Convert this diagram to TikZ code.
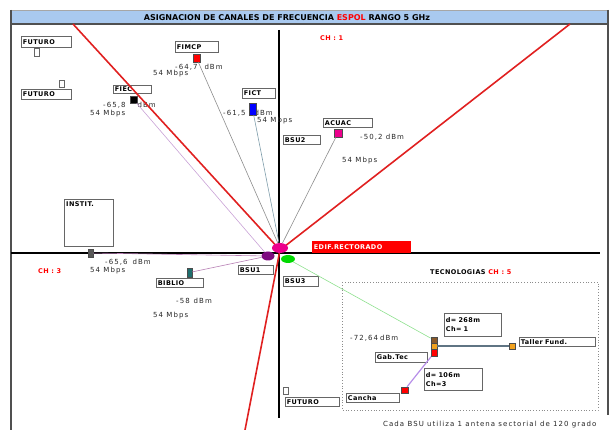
\documentclass[tikz,border=0pt]{standalone}
\usepackage{fontspec}
\setmainfont{DejaVu Sans}
\newfontfamily\lblfont[LetterSpace=6]{DejaVu Sans}
\newfontfamily\valfont[LetterSpace=15]{DejaVu Sans}
\usetikzlibrary{shapes.geometric}

\definecolor{barblue}{HTML}{A9C9EF}
\definecolor{framegray}{HTML}{505050}
\definecolor{sectred}{HTML}{E02020}
\definecolor{linkgray}{HTML}{8C8C8C}
\definecolor{linkblue}{HTML}{7E9CAA}
\definecolor{lilac}{HTML}{C9A2D6}
\definecolor{plum}{HTML}{B77FB4}
\definecolor{lgreen}{HTML}{8EE08E}
\definecolor{slate}{HTML}{5F7483}
\definecolor{violet2}{HTML}{B68DE8}
\definecolor{siteteal}{HTML}{1F6E6E}
\definecolor{sitebrown}{HTML}{8A5A2B}
\definecolor{siteorange}{HTML}{F2A21E}
\definecolor{bsupurple}{HTML}{7E0A80}

\begin{document}
\begin{tikzpicture}[x=1pt, y=-1pt,
    lbl/.style={draw=black!60, line width=0.8pt, fill=white, anchor=north west, align=left,
        inner xsep=1.5pt, inner ysep=0pt, font=\lblfont\bfseries\fontsize{6.5}{9}\selectfont},
    val/.style={anchor=west, inner sep=0pt, text=black!85, font=\valfont\fontsize{7}{8}\selectfont},
    chan/.style={anchor=west, inner sep=0pt, text=red, font=\lblfont\bfseries\fontsize{6.5}{7}\selectfont},
    site/.style={draw=black!70, line width=0.5pt, inner sep=0pt, minimum width=7pt, minimum height=7pt},
    spare/.style={draw=black!60, fill=white, line width=0.5pt, inner sep=0pt, minimum width=5pt, minimum height=8pt},
    bsu/.style={ellipse, inner sep=0pt},
    sector/.style={draw=sectred, line width=1.6pt},
    axis/.style={draw=black, line width=1.8pt},
    link/.style={line width=0.6pt}
]
\useasboundingbox (0,0) rectangle (613,430);

\fill[barblue] (11,10) rectangle (608,24);
\draw[framegray, line width=1.2pt] (11,24) -- (608,24);
\draw[black!35, line width=0.6pt] (11,10) -- (608,10);
\draw[framegray, line width=2pt] (11,10) -- (11,430);
\draw[framegray, line width=2pt] (608,10) -- (608,415);
\node[font=\bfseries\fontsize{8}{9}\selectfont, inner sep=0pt] (title) at (287,17.5)
    {ASIGNACION DE CANALES DE FRECUENCIA \textcolor{red}{ESPOL} RANGO 5 GHz};

\coordinate (o) at (280,250);
\coordinate (nw) at (73,24);
\coordinate (ne) at (570,24);
\coordinate (so) at (245,430);
\coordinate (ytop) at (279,30);
\coordinate (ybot) at (279,418);
\coordinate (xleft) at (11,253);
\coordinate (xright) at (600,253);

\draw[axis] (ytop) -- (ybot);
\draw[axis, line width=1.5pt] (xleft) -- (xright);

\draw[black!45, dotted, line width=0.8pt] (342,282) rectangle (598,410);

\node[val] (v_fimcp) at (175,67) {-64,7\hspace{7pt}dBm};
\node[val] (r_fimcp) at (153,74) {54 Mbps};
\node[val] (v_fiec) at (103,105) {-65,8\hspace{12pt}dBm};
\node[val] (r_fiec) at (90,114) {54 Mbps};
\node[val] (v_fict) at (223,113) {-61,5\hspace{9pt}dBm};
\node[val] (r_fict) at (257,121) {54 Mbps};
\node[val] (v_acuac) at (360,137) {-50,2 dBm};
\node[val] (r_acuac) at (342,161) {54 Mbps};
\node[val] (v_instit) at (105,262) {-65,6\hspace{5pt}dBm};
\node[val] (r_instit) at (90,271) {54 Mbps};
\node[val] (v_biblio) at (176,301) {-58\hspace{4pt}dBm};
\node[val] (r_biblio) at (153,316) {54 Mbps};
\node[val] (v_tec) at (350,338) {-72,64\hspace{2pt}dBm};

\node[chan] (ch1) at (320,38) {CH : 1};
\node[chan] (ch3) at (38,271) {CH : 3};
\node[chan, text=black] (tecno) at (430,272) {TECNOLOGIAS \textcolor{red}{CH : 5}};

\node[lbl, text width=47pt, minimum height=11pt] (fut1) at (21,36) {FUTURO};
\node[lbl, text width=47pt, minimum height=10pt] (fut2) at (21,89) {FUTURO};
\node[lbl, text width=35pt, minimum height=8pt] (fiec) at (113,85) {FIEC};
\node[lbl, text width=40pt, minimum height=11pt] (fimcp) at (175,41) {FIMCP};
\node[lbl, text width=30pt, minimum height=10pt] (fict) at (242,88) {FICT};
\node[lbl, text width=34pt, minimum height=9pt] (bsu2) at (283,135) {BSU2};
\node[lbl, text width=46pt, minimum height=9pt] (acuac) at (323,118) {ACUAC};
\node[lbl, minimum width=49pt, minimum height=47pt] (instit) at (64,199) {};
\node[anchor=north west, inner sep=2pt, font=\lblfont\bfseries\fontsize{6.5}{7}\selectfont] (institlbl) at (instit.north west) {INSTIT.};
\node[lbl, text width=44pt, minimum height=9pt] (biblio) at (156,278) {BIBLIO};
\node[lbl, text width=32pt, minimum height=9pt] (bsu1) at (238,265) {BSU1};
\node[lbl, text width=32pt, minimum height=10pt] (bsu3) at (283,276) {BSU3};
\node[lbl, fill=red, draw=red, text=white, text width=95pt, minimum height=11pt] (edif) at (312,241) {EDIF.RECTORADO};
\node[lbl, text width=73pt, minimum height=9pt] (taller) at (519,337) {Taller Fund.};
\node[lbl, text width=54pt, minimum height=23pt] (d268) at (444,313) {d= 268m\\Ch= 1};
\node[lbl, text width=49pt, minimum height=10pt] (gabtec) at (375,352) {Gab.Tec};
\node[lbl, text width=55pt, minimum height=22pt] (d106) at (424,368) {d= 106m\\Ch=3};
\node[lbl, text width=50pt, minimum height=9pt] (cancha) at (346,393) {Cancha};
\node[lbl, text width=51pt, minimum height=9pt] (fut3) at (285,397) {FUTURO};

\node[spare] (p_fut1) at (37,52) {};
\node[spare, minimum height=7pt] (p_fut2) at (61.5,83.5) {};
\node[spare, minimum height=7pt] (p_fut3) at (285.5,390.5) {};

\node[site, fill=red, minimum height=8pt] (s_fimcp) at (196.5,58) {};
\node[site, fill=black] (s_fiec) at (133.5,99.5) {};
\node[site, fill=blue, minimum height=12pt] (s_fict) at (252.5,109) {};
\node[site, fill=magenta, minimum width=8pt, minimum height=8pt] (s_acuac) at (338,133) {};
\node[site, fill=black!65, minimum width=5pt, minimum height=8pt] (s_instit) at (90.5,253) {};
\node[site, fill=siteteal, minimum width=5pt, minimum height=9pt] (s_biblio) at (189.5,272.5) {};
\node[site, fill=sitebrown, minimum width=6pt, minimum height=6pt] (s_gab1) at (434,340) {};
\node[site, fill=siteorange, minimum width=6pt, minimum height=6pt] (s_gab2) at (434,346) {};
\node[site, fill=red, minimum width=6pt, minimum height=7pt] (s_gab3) at (434,353) {};
\node[site, fill=siteorange, minimum width=6pt, minimum height=6pt] (s_taller) at (512,346) {};
\node[site, fill=red, minimum width=7pt, minimum height=6pt] (s_cancha) at (404.5,390) {};

\draw[sector] (o) -- (nw);
\draw[sector] (o) -- (ne);
\draw[sector] (o) -- (so);

\node[bsu, fill=bsupurple, minimum width=13pt, minimum height=9pt] (ant1) at (268,256) {};
\node[bsu, fill=green!85!black, minimum width=14pt, minimum height=8pt] (ant3) at (288,259) {};
\node[bsu, fill=magenta, minimum width=16pt, minimum height=10pt] (ant2) at (280,248) {};

\draw[link, linkgray] (s_fimcp) -- (ant2);
\draw[link, linkblue] (s_fict) -- (ant2);
\draw[link, linkgray] (s_acuac) -- (ant2);
\draw[link, lilac] (s_fiec) -- (ant1);
\draw[link, plum] (s_instit) -- (ant1);
\draw[link, plum] (s_biblio) -- (ant1);
\draw[link, lgreen] (ant3) -- (s_gab1);
\draw[slate, line width=1.6pt] (s_gab2) -- (s_taller);
\draw[violet2, line width=1.2pt] (s_gab3) -- (s_cancha);

\node[val, anchor=west] (note) at (383,425) {Cada BSU utiliza 1 antena sectorial de 120 grado};
\end{tikzpicture}
\end{document}
